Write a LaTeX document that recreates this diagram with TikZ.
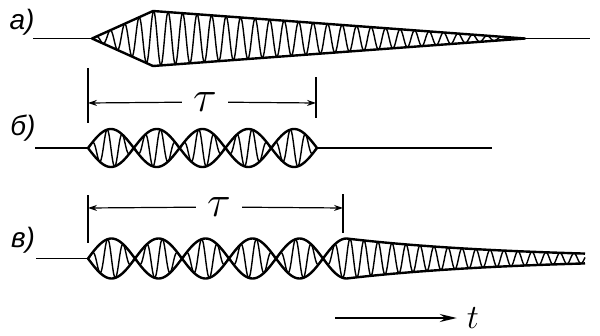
\RequirePackage{fix-cm}
\documentclass[tikz,border=0pt]{standalone}
\usepackage{fontspec}
\newfontfamily\labelfont{Liberation Sans}
\usetikzlibrary{arrows, arrows.meta, positioning}
\tikzstyle{rowlabel} = [font=\labelfont\itshape\fontsize{28}{28}\selectfont, inner sep=0pt]
\tikzstyle{taulabel} = [font=\fontsize{44}{44}\selectfont, inner xsep=11pt, inner ysep=0pt]
\tikzstyle{timelabel} = [font=\fontsize{34}{34}\selectfont, inner xsep=10pt, inner ysep=0pt]
\tikzstyle{envelope} = [line width=2.4pt, line join=round]
\tikzstyle{carrier} = [line width=1.4pt, line join=round]
\tikzstyle{axisline} = [line width=1.8pt]
\tikzstyle{dimtick} = [line width=1.2pt]
\tikzstyle{dimarrow} = [line width=1.2pt, -{Stealth[length=9pt,width=6pt]}]
\tikzstyle{timearrow} = [line width=1.8pt, -{Stealth[length=17pt,width=8pt]}]

\begin{document}
\begin{tikzpicture}[x=1pt, y=-1pt]
        \useasboundingbox (0,0) rectangle (600,335);

        % Row a
        \node (la) [rowlabel] at (22,22) {а)};
        \coordinate (a0) at (33,38.5);
        \coordinate (a1) at (92,38.5);
        \coordinate (atop) at (153,11);
        \coordinate (abot) at (153,66);
        \coordinate (a2) at (525,38.5);
        \coordinate (a3) at (590,38.5);
        \draw [axisline] (a0) -- (a1);
        \draw [axisline] (a2) -- (a3);
        \draw [carrier] plot[domain=92:525, samples=700]
            (\x, {38.5 - 27.5*min((\x-92)/61,(525-\x)/372)*sin((\x-92)*24.8276)});
        \draw [envelope] (a1) -- (atop) -- (a2) -- (abot) -- cycle;

        % Row b
        \node (lb) [rowlabel] at (23,128) {б)};
        \coordinate (b0) at (35,148);
        \coordinate (b1) at (88,148);
        \coordinate (b2) at (317,148);
        \coordinate (b3) at (492,148);
        \draw [axisline] (b0) -- (b1);
        \draw [axisline] (b2) -- (b3);
        \draw [carrier] plot[domain=88:317, samples=500]
            (\x, {148 - 19*sin((\x-88)*3.9301)*sin((\x-88)*23.5808)});
        \draw [envelope] plot[domain=88:317, samples=160] (\x, {148 - 19*sin((\x-88)*3.9301)});
        \draw [envelope] plot[domain=88:317, samples=160] (\x, {148 + 19*sin((\x-88)*3.9301)});

        % Dimension b
        \coordinate (blt) at (88,68);
        \coordinate (blb) at (88,123);
        \coordinate (brt) at (316,77);
        \coordinate (brb) at (316,118);
        \coordinate (bl) at (88,103);
        \coordinate (br) at (316,103);
        \node (taub) [taulabel] at (205,102) {$\tau$};
        \draw [dimtick] (blt) -- (blb);
        \draw [dimtick] (brt) -- (brb);
        \draw [dimarrow] (taub) -- (bl);
        \draw [dimarrow] (taub) -- (br);

        % Row c
        \node (lc) [rowlabel] at (23,240) {в)};
        \coordinate (c0) at (36,258.5);
        \coordinate (c1) at (88,258.5);
        \draw [axisline] (c0) -- (c1);
        \draw [carrier] plot[domain=88:346.5, samples=500]
            (\x, {258.5 - 20*sin((\x-88)*3.8298)*sin((\x-88)*22.9787)})
            -- plot[domain=346.5:585, samples=400]
            (\x, {258.5 - 20*exp(-(\x-346.5)/170)*sin((\x-346.5)*25.7143)});
        \draw [envelope] plot[domain=88:346.5, samples=160] (\x, {258.5 + 20*sin((\x-88)*3.8298)})
            -- plot[domain=346.5:585, samples=60] (\x, {258.5 - 20*exp(-(\x-346.5)/170)});
        \draw [envelope] plot[domain=88:346.5, samples=160] (\x, {258.5 - 20*sin((\x-88)*3.8298)})
            -- plot[domain=346.5:585, samples=60] (\x, {258.5 + 20*exp(-(\x-346.5)/170)});

        % Dimension c
        \coordinate (clt) at (88,195);
        \coordinate (clb) at (88,243);
        \coordinate (crt) at (343,194);
        \coordinate (crb) at (343,233);
        \coordinate (cl) at (88,208);
        \coordinate (cr) at (343,208);
        \node (tauc) [taulabel] at (219,207) {$\tau$};
        \draw [dimtick] (clt) -- (clb);
        \draw [dimtick] (crt) -- (crb);
        \draw [dimarrow] (tauc) -- (cl);
        \draw [dimarrow] (tauc) -- (cr);

        % Time axis
        \coordinate (t0) at (335,318);
        \node (tl) [timelabel] at (473,318) {$t$};
        \draw [timearrow] (t0) -- (tl);
    \end{tikzpicture}
\end{document}
